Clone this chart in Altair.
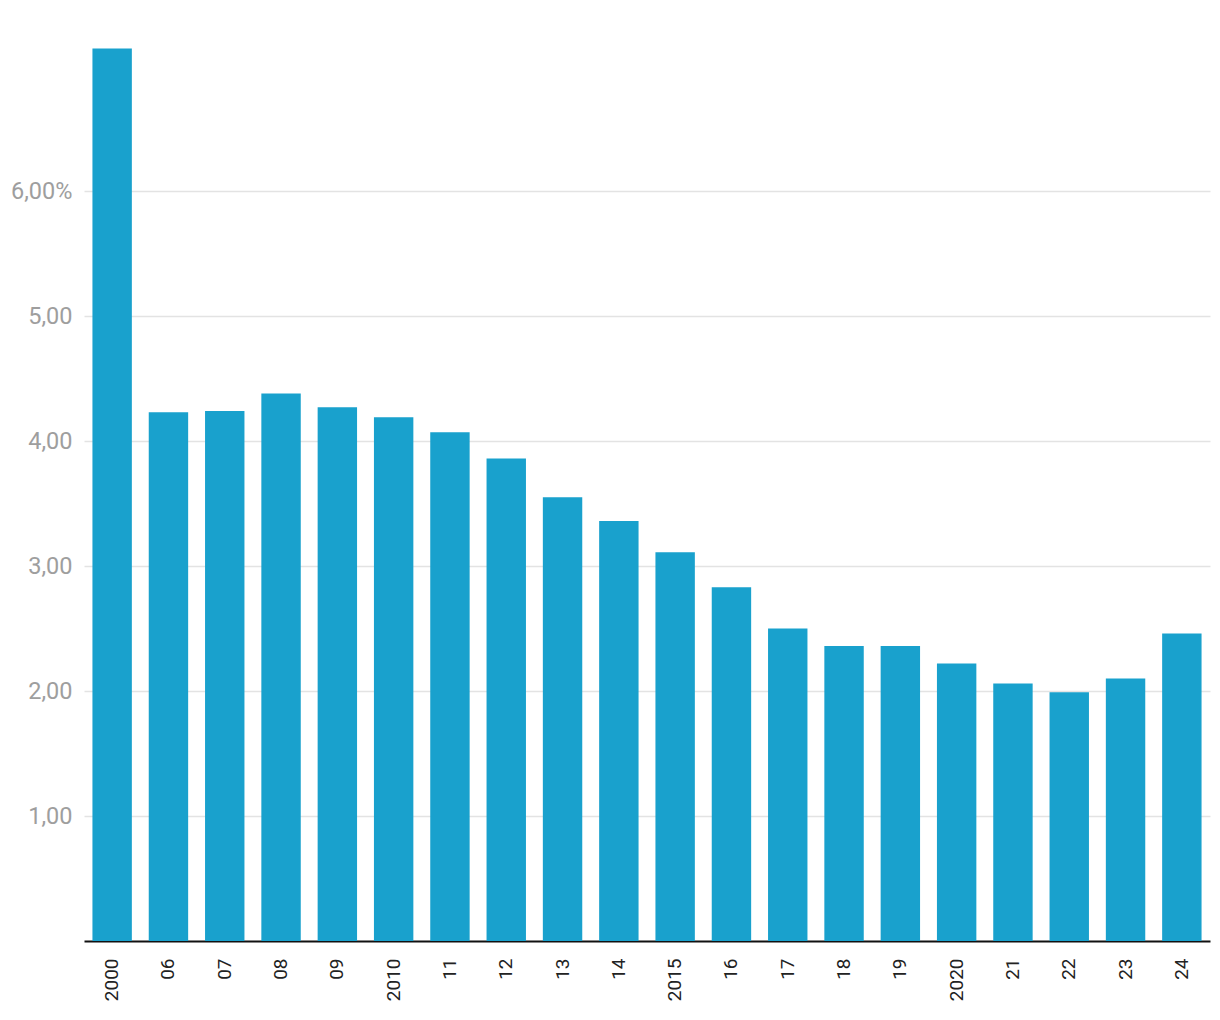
import altair as alt
import pandas as pd

years = ["2000", "06", "07", "08", "09", "2010", "11", "12", "13", "14",
         "2015", "16", "17", "18", "19", "2020", "21", "22", "23", "24"]
values = [7.14, 4.23, 4.24, 4.38, 4.27, 4.19, 4.07, 3.86, 3.55, 3.36,
          3.11, 2.83, 2.50, 2.36, 2.36, 2.22, 2.06, 1.99, 2.10, 2.46]
y_ticks = [1, 2, 3, 4, 5, 6]

df = pd.DataFrame({"year": years, "value": values})

chart = alt.Chart(df).mark_bar(color="#19a1cd").encode(
    x=alt.X("year:N", sort=years, title=None,
            scale=alt.Scale(paddingInner=0.3, paddingOuter=0.15),
            axis=alt.Axis(labelAngle=270, labelFontSize=19, labelColor="#222222",
                          labelFont="Roboto", labelPadding=17, ticks=False,
                          domainColor="#111111", domainWidth=2, grid=False)),
    y=alt.Y("value:Q", title=None,
            scale=alt.Scale(domain=[0, 7.2], nice=False, zero=True),
            axis=alt.Axis(values=y_ticks, labelFontSize=23.5, labelColor="#9e9e9e",
                          labelFont="Roboto", labelPadding=12, ticks=False, domain=False,
                          gridColor="#e3e3e3", gridWidth=1.5,
                          labelExpr="datum.value == 6 ? '6,00%' : replace(format(datum.value, '.2f'), '.', ',')")),
).properties(
    width=1126, height=900,
    background="white",
    autosize=alt.AutoSizeParams(type="none"),
    padding={"left": 84, "top": 41, "right": 10, "bottom": 79},
).configure_view(stroke=None, strokeWidth=0)

chart.save("out.html", embed_options={"renderer": "svg", "actions": False})
